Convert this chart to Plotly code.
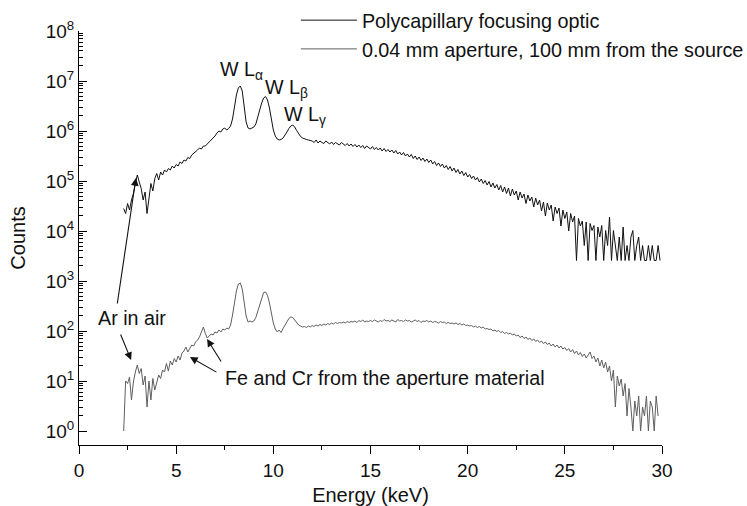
import numpy as np
import plotly.graph_objects as go

# Energy channels: start 2.3 keV, step 0.1 keV
E_START = 2.3
E_STEP = 0.1

# log10(counts), polycapillary focusing optic (upper curve)
poly_log10 = [
    4.45, 4.35, 4.55, 4.42, 4.62, 4.75, 4.95,                          # 2.3-2.9
    5.12, 4.98, 4.85, 4.62, 4.78, 4.35, 4.72, 4.95, 4.80, 5.05,        # 3
    5.15, 5.02, 5.18, 5.12, 5.22, 5.18, 5.25, 5.22, 5.30, 5.26,        # 4
    5.33, 5.30, 5.38, 5.35, 5.42, 5.40, 5.47, 5.45, 5.52, 5.55,        # 5
    5.58, 5.62, 5.66, 5.64, 5.70, 5.70, 5.74, 5.78, 5.80, 5.86,        # 6
    5.90, 5.96, 6.00, 5.98, 6.04, 6.06, 6.02, 6.05, 6.10, 6.24,        # 7
    6.50, 6.72, 6.86, 6.90, 6.80, 6.50, 6.18, 6.06, 6.04, 6.06,        # 8
    6.08, 6.14, 6.26, 6.42, 6.56, 6.66, 6.69, 6.62, 6.46, 6.24,        # 9
    6.02, 5.90, 5.84, 5.82, 5.83, 5.86, 5.91, 5.98, 6.05, 6.10,        # 10
    6.12, 6.08, 6.01, 5.94, 5.89, 5.86, 5.84, 5.83, 5.82, 5.81,        # 11
    5.80, 5.77, 5.82, 5.76, 5.80, 5.77, 5.75, 5.80, 5.76, 5.74,        # 12
    5.78, 5.73, 5.77, 5.74, 5.72, 5.77, 5.73, 5.71, 5.75, 5.70,        # 13
    5.74, 5.69, 5.73, 5.68, 5.72, 5.67, 5.71, 5.65, 5.70, 5.66,        # 14
    5.64, 5.69, 5.63, 5.67, 5.62, 5.66, 5.60, 5.65, 5.59, 5.63,        # 15
    5.58, 5.62, 5.56, 5.61, 5.54, 5.58, 5.52, 5.57, 5.50, 5.54,        # 16
    5.48, 5.53, 5.45, 5.50, 5.43, 5.48, 5.41, 5.46, 5.39, 5.44,        # 17
    5.37, 5.42, 5.34, 5.39, 5.31, 5.36, 5.29, 5.34, 5.26, 5.31,        # 18
    5.23, 5.29, 5.20, 5.26, 5.17, 5.23, 5.14, 5.20, 5.11, 5.17,        # 19
    5.08, 5.13, 5.05, 5.10, 5.02, 5.07, 4.98, 5.04, 4.95, 5.01,        # 20
    4.92, 4.99, 4.88, 4.96, 4.86, 4.93, 4.82, 4.91, 4.78, 4.88,        # 21
    4.75, 4.86, 4.70, 4.84, 4.72, 4.80, 4.62, 4.78, 4.66, 4.74,        # 22
    4.55, 4.72, 4.60, 4.68, 4.48, 4.66, 4.52, 4.62, 4.40, 4.58,        # 23
    4.30, 4.56, 4.42, 4.52, 4.20, 4.48, 4.35, 4.46, 4.10, 4.42,        # 24
    4.25, 4.38, 4.00, 4.35, 4.18, 4.30, 3.41, 4.25, 4.10, 4.20,        # 25
    3.71, 4.18, 3.41, 4.15, 4.01, 4.11, 3.41, 4.08, 3.88, 4.11,        # 26
    3.41, 4.01, 3.71, 4.28, 3.41, 4.01, 3.71, 3.41, 3.88, 3.41,        # 27
    4.08, 3.41, 3.71, 3.41, 3.88, 4.01, 3.41, 3.71, 3.88, 3.41,        # 28
    3.71, 3.41, 3.41, 3.71, 3.41, 3.71, 3.41, 3.41, 3.71, 3.41,        # 29
]

# log10(counts), 0.04 mm aperture (lower curve)
aperture_log10 = [
    0.00, 1.00, 0.95, 1.08, 0.62, 0.98, 1.18,                          # 2.3-2.9
    1.32, 1.15, 1.25, 0.92, 1.10, 0.48, 1.00, 0.62, 1.05, 0.82,        # 3
    0.95, 1.12, 1.05, 1.22, 1.18, 1.35, 1.20, 1.40, 1.32, 1.45,        # 4
    1.38, 1.50, 1.42, 1.56, 1.60, 1.68, 1.58, 1.66, 1.72, 1.70,        # 5
    1.78, 1.82, 1.88, 1.98, 2.08, 1.95, 1.86, 1.90, 1.94, 1.92,        # 6
    1.98, 1.96, 2.02, 1.98, 2.04, 2.02, 2.06, 2.04, 2.12, 2.32,        # 7
    2.56, 2.80, 2.94, 2.96, 2.84, 2.56, 2.30, 2.18, 2.20, 2.18,        # 8
    2.20, 2.27, 2.40, 2.55, 2.68, 2.77, 2.78, 2.71, 2.56, 2.36,        # 9
    2.16, 2.04, 1.98, 2.02, 1.97, 2.05, 2.11, 2.19, 2.25, 2.28,        # 10
    2.27, 2.22, 2.16, 2.12, 2.10, 2.08, 2.09, 2.07, 2.10, 2.08,        # 11
    2.11, 2.09, 2.12, 2.10, 2.13, 2.11, 2.14, 2.12, 2.15, 2.13,        # 12
    2.16, 2.14, 2.17, 2.15, 2.17, 2.16, 2.18, 2.16, 2.19, 2.17,        # 13
    2.19, 2.18, 2.20, 2.17, 2.21, 2.19, 2.22, 2.18, 2.20, 2.19,        # 14
    2.21, 2.19, 2.22, 2.20, 2.18, 2.21, 2.19, 2.23, 2.20, 2.21,        # 15
    2.19, 2.22, 2.20, 2.18, 2.23, 2.20, 2.21, 2.19, 2.22, 2.20,        # 16
    2.21, 2.18, 2.20, 2.22, 2.19, 2.21, 2.17, 2.20, 2.19, 2.21,        # 17
    2.18, 2.20, 2.17, 2.19, 2.18, 2.16, 2.19, 2.17, 2.18, 2.15,        # 18
    2.17, 2.15, 2.16, 2.14, 2.16, 2.13, 2.15, 2.12, 2.14, 2.11,        # 19
    2.12, 2.10, 2.11, 2.08, 2.10, 2.07, 2.09, 2.06, 2.08, 2.04,        # 20
    2.05, 2.03, 2.04, 2.00, 2.02, 1.99, 2.01, 1.97, 1.99, 1.95,        # 21
    1.97, 1.94, 1.96, 1.92, 1.94, 1.90, 1.92, 1.87, 1.90, 1.85,        # 22
    1.88, 1.83, 1.86, 1.81, 1.84, 1.79, 1.82, 1.77, 1.80, 1.75,        # 23
    1.78, 1.73, 1.76, 1.70, 1.74, 1.68, 1.72, 1.66, 1.70, 1.64,        # 24
    1.67, 1.61, 1.65, 1.58, 1.63, 1.55, 1.60, 1.52, 1.57, 1.49,        # 25
    1.54, 1.46, 1.52, 1.58, 1.45, 1.50, 1.38, 1.46, 1.30, 1.42,        # 26
    1.26, 1.38, 1.18, 1.30, 1.00, 1.22, 0.48, 1.10, 0.90, 1.04,        # 27
    0.70, 0.95, 0.30, 0.85, 0.48, 0.00, 0.60, 0.30, 0.70, 0.00,        # 28
    0.48, 0.30, 0.70, 0.00, 0.60, 0.48, 0.00, 0.70, 0.30,              # 29.0-29.8
]

series_names = ["Polycapillary focusing optic",
                "0.04 mm aperture, 100 mm from the source"]
x_ticks = [0, 5, 10, 15, 20, 25, 30]
y_tick_powers = [0, 1, 2, 3, 4, 5, 6, 7, 8]

poly_counts = np.power(10.0, poly_log10)
aper_counts = np.power(10.0, aperture_log10)
poly_E = np.round(E_START + E_STEP * np.arange(len(poly_counts)), 2)
aper_E = np.round(E_START + E_STEP * np.arange(len(aper_counts)), 2)

FONT = "Liberation Sans, Arial, Helvetica, sans-serif"

fig = go.Figure()
fig.add_trace(go.Scatter(x=poly_E, y=poly_counts, mode="lines", name=series_names[0],
                         line=dict(color="#111111", width=1)))
fig.add_trace(go.Scatter(x=aper_E, y=aper_counts, mode="lines", name=series_names[1],
                         line=dict(color="#5f5f5f", width=1)))

minor_y = [m * 10 ** p for p in range(0, 8) for m in range(2, 10)]

fig.update_layout(
    width=747, height=506,
    margin=dict(l=79, r=85, t=31, b=61, autoexpand=False),
    paper_bgcolor="white", plot_bgcolor="white",
    font=dict(family=FONT, size=18, color="#111111"),
    showlegend=True,
    legend=dict(x=0.372, y=1.073, xanchor="left", yanchor="top",
                bgcolor="rgba(0,0,0,0)", borderwidth=0,
                font=dict(size=19.8, color="#111111"),
                itemwidth=56, tracegroupgap=0),
    xaxis=dict(range=[0, 30], tickvals=x_ticks, ticks="outside", ticklen=8,
               tickwidth=1, tickcolor="black", showline=True, linecolor="black",
               linewidth=1, showgrid=False, zeroline=False, mirror=False,
               tickfont=dict(size=19),
               minor=dict(tickvals=[2.5, 7.5, 12.5, 17.5, 22.5, 27.5],
                          ticks="outside", ticklen=4, tickcolor="black", showgrid=False),
               title=dict(text="Energy (keV)", font=dict(size=20), standoff=8)),
    yaxis=dict(type="log", range=[-0.28, 8],
               tickvals=[10 ** p for p in y_tick_powers],
               ticktext=["10<sup>%d</sup>" % p for p in y_tick_powers],
               ticks="inside", ticklen=8, tickwidth=1, tickcolor="black",
               showline=True, linecolor="black", linewidth=1, showgrid=False,
               zeroline=False, tickfont=dict(size=19),
               minor=dict(tickvals=minor_y, ticks="inside", ticklen=4,
                          tickcolor="black", showgrid=False),
               title=dict(text="Counts", font=dict(size=20), standoff=14)),
)

ann_font = dict(family=FONT, size=19.7, color="#111111")
labels = [
    ("W L<sub>α</sub>", 7.15, 7.22),
    ("W L<sub>β</sub>", 9.45, 6.86),
    ("W L<sub>γ</sub>", 10.45, 6.32),
    ("Ar in air", 0.90, 2.26),
    ("Fe and Cr from the aperture material", 7.40, 1.06),
]
for txt, xv, yv in labels:
    fig.add_annotation(x=xv, y=yv, xref="x", yref="y", text=txt, showarrow=False,
                       xanchor="left", yanchor="middle", font=ann_font)

# arrows: (tail E, tail log10, head E, head log10)
arrows = [
    (1.96, 2.52, 2.93, 5.06),
    (2.11, 1.96, 2.68, 1.42),
    (7.15, 1.16, 5.71, 1.48),
    (7.36, 1.36, 6.59, 1.84),
]
for ax_, ay_, hx, hy in arrows:
    fig.add_annotation(x=hx, y=hy, ax=ax_, ay=ay_, xref="x", yref="y",
                       axref="x", ayref="y", text="", showarrow=True,
                       arrowhead=2, arrowsize=1.4, arrowwidth=1.1,
                       arrowcolor="#111111", standoff=0)

fig.write_html("out.html")
